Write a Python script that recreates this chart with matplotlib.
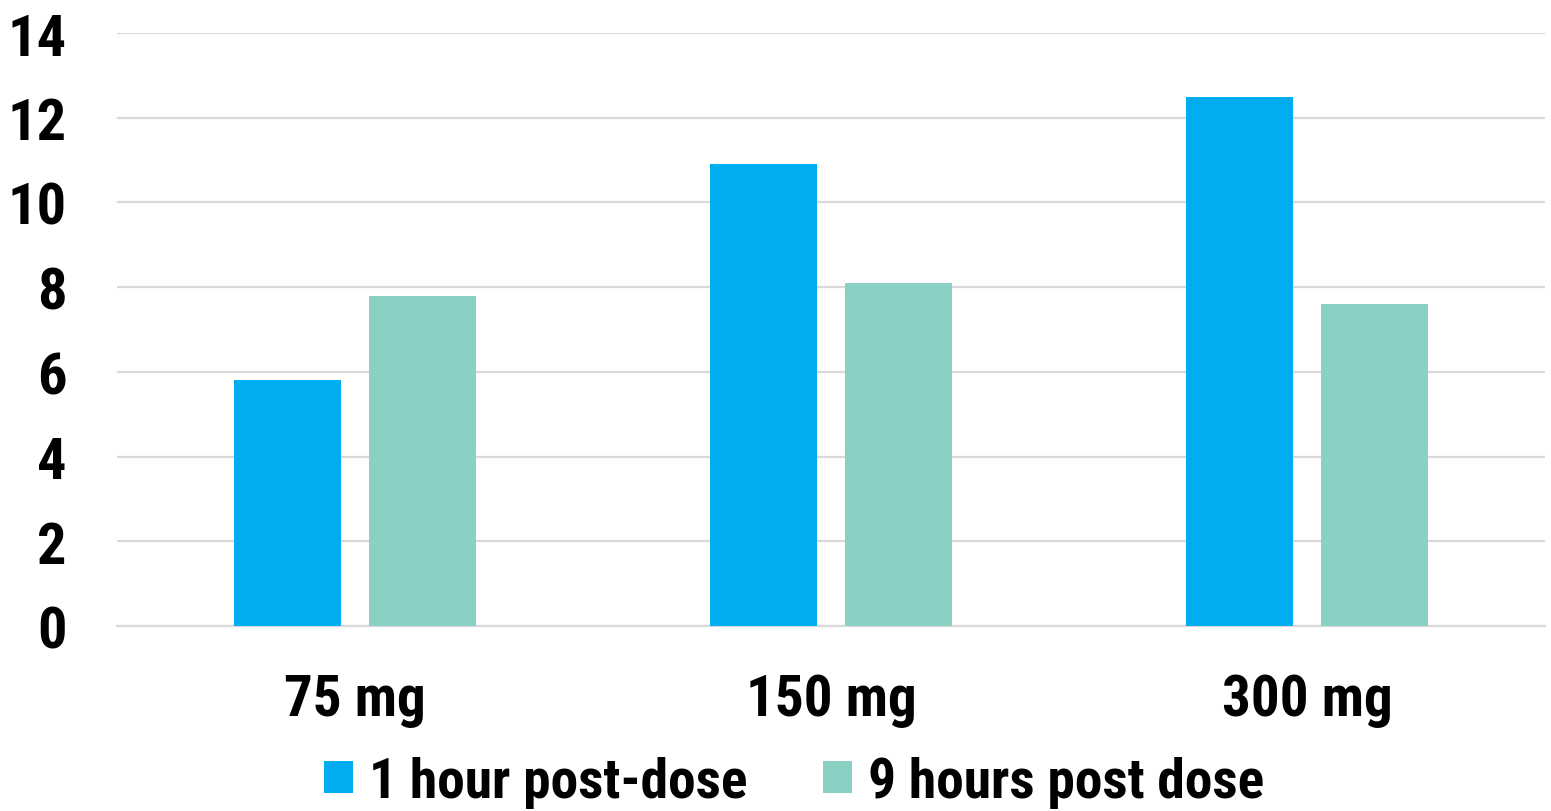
import matplotlib
matplotlib.use("Agg")
import matplotlib.pyplot as plt
from matplotlib import font_manager
from matplotlib.patches import Patch
import numpy as np

# Dose groups and measured values at two time points
doses = ["75 mg", "150 mg", "300 mg"]
one_hour = [5.8, 10.9, 12.5]
nine_hours = [7.8, 8.1, 7.6]
series_labels = ["1 hour post-dose", "9 hours post dose"]
y_ticks = [0, 2, 4, 6, 8, 10, 12, 14]

blue = "#00ADEF"
teal = "#88D1C4"
grid_color = "#D9D9D9"

# Prefer a narrow bold sans-serif face
available = {f.name for f in font_manager.fontManager.ttflist}
preferred = ["Liberation Sans Narrow", "Arial Narrow", "Roboto Condensed",
             "PT Sans Narrow", "Archivo Narrow", "Liberation Sans", "DejaVu Sans"]
family = [f for f in preferred if f in available][:1] + ["DejaVu Sans"]
plt.rcParams["font.family"] = family
plt.rcParams["font.weight"] = "bold"

fig = plt.figure(figsize=(15.51, 8.12), dpi=100)
ax = fig.add_axes([0.0754, 0.228, 0.9206, 0.730])

x = np.arange(len(doses))
width = 0.225
offset = 0.142
ax.bar(x - offset, one_hour, width, color=blue, zorder=3)
ax.bar(x + offset, nine_hours, width, color=teal, zorder=3)

ax.set_xlim(-0.5, len(doses) - 0.5)
ax.set_ylim(0, 14)
ax.set_yticks(y_ticks)
ax.set_yticklabels([str(t) for t in y_ticks])
ax.set_xticks(x)
ax.set_xticklabels(doses)
ax.grid(axis="y", color=grid_color, linewidth=1.6, zorder=0)
ax.set_axisbelow(True)

for s in ["top", "right", "left"]:
    ax.spines[s].set_visible(False)
ax.spines["bottom"].set_color(grid_color)
ax.spines["bottom"].set_linewidth(1.6)

ax.tick_params(axis="y", length=0, pad=36, labelsize=42)
ax.tick_params(axis="x", length=0, pad=33, labelsize=41)
for lab in ax.get_xticklabels() + ax.get_yticklabels():
    lab.set_fontweight("bold")

handles = [Patch(facecolor=blue), Patch(facecolor=teal)]
fig.legend(handles, series_labels, loc="center", ncol=2,
           bbox_to_anchor=(0.512, 0.036), frameon=False,
           prop={"size": 40, "weight": "bold"},
           handlelength=0.52, handleheight=0.52, handletextpad=0.29,
           columnspacing=1.35, borderpad=0)

fig.savefig("out.png", dpi=100)
